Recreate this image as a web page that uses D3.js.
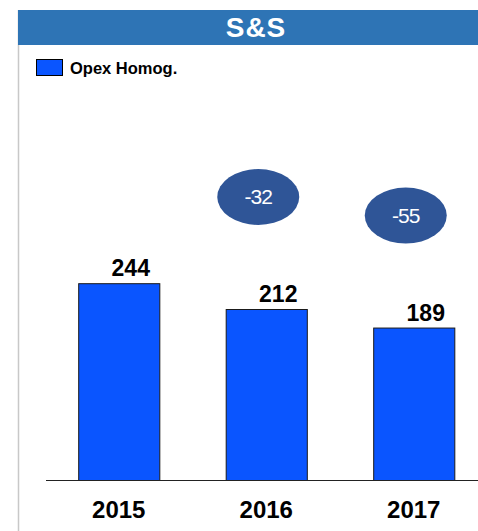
<!DOCTYPE html>
<html><head><meta charset="utf-8">
<script src="https://cdn.jsdelivr.net/npm/d3@7"></script>
<style>body{margin:0;background:#fff;}svg{display:block;font-family:"Liberation Sans",Arial,sans-serif;}</style>
</head><body>
<svg id="c" width="478" height="531"></svg>
<script>
const title = "S&S";
const seriesName = "Opex Homog.";
const categories = ["2015", "2016", "2017"];
const values = [244, 212, 189];
const deltas = [null, -32, -55];

const svg = d3.select("#c");
const W = 478, H = 531;

// frame
svg.append("line").attr("x1",18.5).attr("x2",18.5).attr("y1",10).attr("y2",H).attr("stroke","#c8c8c8").attr("stroke-width",1.5);
svg.append("rect").attr("x",18).attr("y",10).attr("width",W-18).attr("height",35).attr("fill","#2e74b5");
svg.append("text").attr("x",256).attr("y",37).attr("text-anchor","middle").attr("fill","#fff")
  .attr("font-size",28).attr("font-weight","bold").attr("letter-spacing",1).text(title);

// legend
svg.append("rect").attr("x",36.5).attr("y",59.5).attr("width",26).attr("height",16).attr("fill","#0a55ff").attr("stroke","#000").attr("stroke-width",1);
svg.append("text").attr("x",70).attr("y",74).attr("font-size",16.5).attr("font-weight","bold").attr("fill","#000").text(seriesName);

const x = d3.scaleBand().domain(categories).range([45, 487.5]).paddingInner(0.45).paddingOuter(0.225);
const baseY = 480;
const y = d3.scaleLinear().domain([0, 300]).range([baseY, baseY - 300*0.8066]);

svg.selectAll("rect.bar").data(values).join("rect").attr("class","bar")
  .attr("x",(d,i)=>x(categories[i])+0.5).attr("width",x.bandwidth())
  .attr("y",d=>y(d)+0.5).attr("height",d=>baseY-y(d))
  .attr("fill","#0a55ff").attr("stroke","#1a1a1a").attr("stroke-width",1);

// baseline axis
const xAxis = d3.axisBottom(x).tickSize(0).tickPadding(21);
const ax = svg.append("g").attr("transform",`translate(0,${baseY})`).call(xAxis);
ax.select(".domain").attr("d",`M46,0.5H${W}`).attr("stroke","#222").attr("stroke-width",1.2);
ax.selectAll("text").attr("font-size",24).attr("font-weight","bold").attr("fill","#000").attr("font-family","Liberation Sans, Arial, sans-serif");

// value labels
svg.selectAll("text.val").data(values).join("text").attr("class","val")
  .attr("x",(d,i)=>x(categories[i])+x.bandwidth()/2+12).attr("y",d=>y(d)-7)
  .attr("text-anchor","middle").attr("font-size",23).attr("font-weight","bold").attr("fill","#000").text(d=>d);

// delta ellipses
const dg = svg.selectAll("g.delta").data(deltas.map((d,i)=>({d,i})).filter(o=>o.d!==null)).join("g").attr("class","delta")
  .attr("transform",o=>`translate(${x(categories[o.i])+x.bandwidth()/2-8},${y(values[o.i])-112})`);
dg.append("ellipse").attr("rx",41).attr("ry",28).attr("fill","#2f5597");
dg.append("text").attr("y",7).attr("text-anchor","middle").attr("fill","#fff").attr("font-size",21).attr("letter-spacing",-1).text(o=>o.d);
</script>
</body></html>
